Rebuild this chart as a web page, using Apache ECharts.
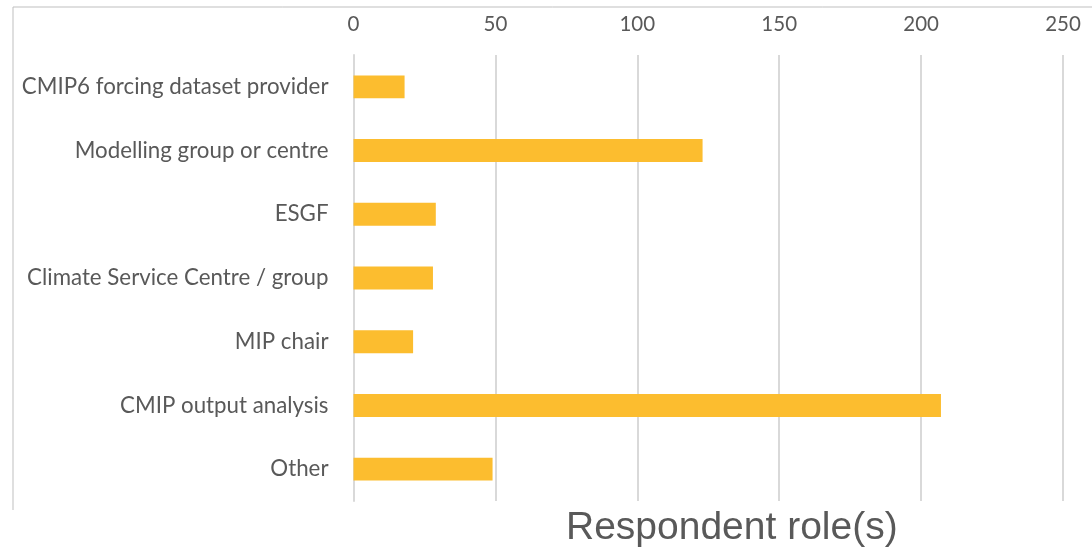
<!DOCTYPE html>
<html>
<head>
<meta charset="utf-8">
<script src="https://cdn.jsdelivr.net/npm/echarts@6/dist/echarts.min.js"></script>
<style>
html,body{margin:0;padding:0;background:#fff;}
#chart{width:1092px;height:547px;}
</style>
</head>
<body>
<div id="chart"></div>
<script>
const categories = ["CMIP6 forcing dataset provider", "Modelling group or centre", "ESGF", "Climate Service Centre / group", "MIP chair", "CMIP output analysis", "Other"];
const values = [18, 123, 29, 28, 21, 207, 49];
const xTicks = [0, 50, 100, 150, 200, 250];
const titleText = "Respondent role(s)";

const chart = echarts.init(document.getElementById('chart'));
chart.setOption({
  animation: false,
  backgroundColor: '#fff',
  title: {
    text: titleText,
    left: 561, top: 504,
    textStyle: {fontFamily: 'Liberation Sans', fontSize: 39, fontWeight: 'normal', color: '#595959'}
  },
  graphic: [{
    type: 'polyline',
    shape: {points: [[13, 510], [13, 7], [1092, 7]]},
    style: {stroke: '#bfbfbf', lineWidth: 1, fill: null},
    silent: true
  }],
  grid: {left: 353.5, right: 29, top: 55, bottom: 46},
  xAxis: {
    type: 'value', position: 'top',
    min: xTicks[0], max: xTicks[xTicks.length - 1], interval: 50,
    axisLine: {show: false}, axisTick: {show: false},
    axisLabel: {color: '#595959', fontFamily: 'Lato', fontSize: 20.5, margin: 20},
    splitLine: {lineStyle: {color: '#d9d9d9', width: 2}}
  },
  yAxis: {
    type: 'category', data: categories, inverse: true,
    axisLine: {lineStyle: {color: '#d9d9d9', width: 2}},
    axisTick: {show: false},
    axisLabel: {color: '#595959', fontFamily: 'Lato', fontSize: 22.3, margin: 25}
  },
  series: [{
    type: 'bar', data: values,
    barCategoryGap: '64%',
    itemStyle: {color: '#FCBD2F'}
  }]
});
</script>
</body>
</html>
